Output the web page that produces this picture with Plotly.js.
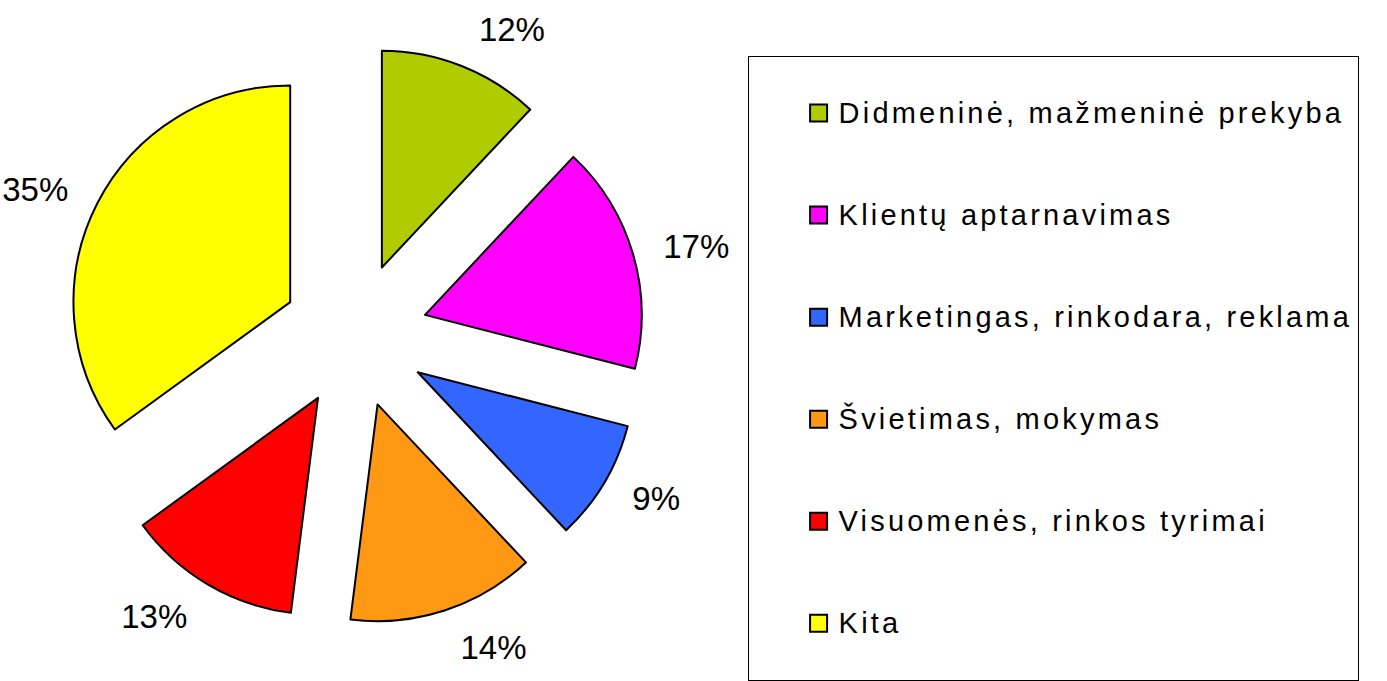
<!DOCTYPE html>
<html>
<head>
<meta charset="utf-8">
<script src="https://cdn.plot.ly/plotly-3.0.1.min.js"></script>
<style>
  html, body { margin: 0; padding: 0; background: #fff; }
  #chart { width: 1387px; height: 681px; }
  .legendtext { letter-spacing: 3.2px; }
  .legendpie { d: path("M8.5,8.5H-8.5V-8.5H8.5Z"); }
</style>
</head>
<body>
<div id="chart"></div>
<script>
const categories = [
  "Didmeninė, mažmeninė prekyba",
  "Klientų aptarnavimas",
  "Marketingas, rinkodara, reklama",
  "Švietimas, mokymas",
  "Visuomenės, rinkos tyrimai",
  "Kita"
];
const values = [12, 17, 9, 14, 13, 35];
const colors = ["#b0cc00", "#ff00ff", "#3366ff", "#ff9914", "#ff0000", "#ffff00"];

const FONT = 'Liberation Sans, Arial, sans-serif';
const legendLabels = categories.map(c => '<br><span style="font-size:29px">' + c + '</span><br> ');

// main exploded pie (slices + legend)
const slices = {
  type: 'pie',
  labels: legendLabels,
  values: values,
  sort: false,
  direction: 'clockwise',
  rotation: 0,
  pull: values.map(() => 0.336),
  marker: { colors: colors, line: { color: '#000', width: 2 } },
  textinfo: 'none',
  domain: { x: [0.044, 0.468], y: [0.069, 0.932] },
  hoverinfo: 'label+percent'
};

// same data on a slightly larger transparent pie, only to carry the outside percent labels
const labelRing = {
  type: 'pie',
  labels: legendLabels,
  values: values,
  sort: false,
  direction: 'clockwise',
  rotation: 0,
  pull: values.map(() => 0.306),
  marker: { colors: values.map(() => 'rgba(0,0,0,0)'), line: { width: 0 } },
  textinfo: 'percent',
  textposition: 'outside',
  textfont: { family: FONT, size: 33, color: '#000' },
  showlegend: false,
  hoverinfo: 'skip',
  domain: { x: [0.0281, 0.4838], y: [0.0367, 0.9648] }
};

const layout = {
  width: 1387,
  height: 681,
  margin: { l: 0, r: 0, t: 0, b: 0 },
  paper_bgcolor: '#fff',
  showlegend: true,
  legend: {
    x: 0.539, xanchor: 'left',
    y: 0.9046, yanchor: 'top',
    bordercolor: '#000', borderwidth: 1,
    indentation: 50,
    maxheight: 1000,
    font: { family: FONT, size: 25.4, color: '#000' }
  },
  font: { family: FONT, color: '#000' }
};

Plotly.newPlot('chart', [slices, labelRing], layout, { displayModeBar: false, staticPlot: true });
</script>
</body>
</html>
